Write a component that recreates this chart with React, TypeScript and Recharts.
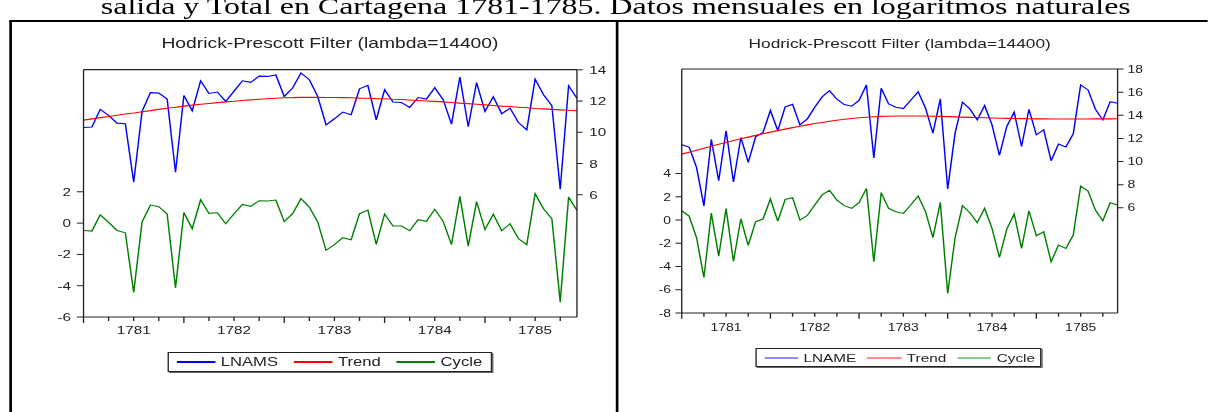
import React from 'react';
import { LineChart, Line, XAxis, YAxis, ReferenceLine } from 'recharts';

// the reference is a horizontally stretched page, so everything is drawn
// narrower and stretched back with scaleX
const S = 1.33;

// monthly, 1780M07 .. 1785M06
const lnams = [
  10.3, 10.33, 11.46, 11.07, 10.58, 10.54, 6.8, 11.33, 12.53, 12.5,
  12.12, 7.44, 12.35, 11.37, 13.29, 12.48, 12.57, 11.97, 12.63, 13.29,
  13.19, 13.59, 13.57, 13.66, 12.29, 12.83, 13.79, 13.36, 12.29, 10.47,
  10.86, 11.29, 11.12, 12.78, 13.0, 10.79, 12.72, 11.93, 11.9, 11.58,
  12.22, 12.12, 12.85, 12.08, 10.52, 13.53, 10.35, 13.17, 11.33, 12.27,
  11.18, 11.54, 10.62, 10.15, 13.4, 12.4, 11.69, 6.35, 12.97, 12.18,
];
const trendL = [
  10.77, 10.85, 10.93, 11.0, 11.08, 11.16, 11.23, 11.31, 11.38, 11.46,
  11.53, 11.6, 11.67, 11.73, 11.79, 11.84, 11.89, 11.94, 11.98, 12.03,
  12.07, 12.11, 12.14, 12.17, 12.2, 12.21, 12.23, 12.23, 12.23, 12.22,
  12.22, 12.21, 12.2, 12.18, 12.17, 12.15, 12.14, 12.11, 12.09, 12.06,
  12.03, 12.0, 11.97, 11.94, 11.9, 11.86, 11.83, 11.79, 11.75, 11.71,
  11.67, 11.64, 11.6, 11.56, 11.52, 11.49, 11.46, 11.43, 11.4, 11.37,
];
const cycleL = [
  -0.47, -0.51, 0.53, 0.05, -0.47, -0.62, -4.43, 0.07, 1.15, 1.05,
  0.58, -4.15, 0.68, -0.36, 1.49, 0.62, 0.66, -0.04, 0.6, 1.19,
  1.07, 1.43, 1.41, 1.47, 0.09, 0.6, 1.56, 1.02, 0.07, -1.74,
  -1.38, -0.93, -1.06, 0.6, 0.83, -1.36, 0.58, -0.19, -0.19, -0.49,
  0.22, 0.11, 0.88, 0.11, -1.38, 1.71, -1.47, 1.37, -0.41, 0.56,
  -0.49, -0.04, -1.0, -1.38, 1.88, 0.92, 0.28, -5.05, 1.66, 0.81,
];

const lname = [
  11.45, 11.25, 9.49, 6.16, 11.91, 8.34, 12.66, 8.23, 12.08, 9.92,
  12.14, 12.51, 14.41, 12.68, 14.72, 14.95, 13.17, 13.69, 14.7, 15.59,
  16.13, 15.39, 14.92, 14.78, 15.28, 16.62, 10.3, 16.34, 14.98, 14.7,
  14.58, 15.3, 16.04, 14.61, 12.45, 15.41, 7.63, 12.45, 15.13, 14.55,
  13.6, 14.84, 13.17, 10.53, 13.03, 14.27, 11.3, 14.52, 12.31, 12.74,
  10.07, 11.51, 11.25, 12.4, 16.62, 16.19, 14.52, 13.6, 15.18, 15.04,
];
const trendR = [
  10.64, 10.81, 10.98, 11.15, 11.32, 11.49, 11.65, 11.81, 11.96, 12.11,
  12.26, 12.4, 12.54, 12.67, 12.8, 12.93, 13.05, 13.17, 13.28, 13.38,
  13.48, 13.57, 13.65, 13.72, 13.78, 13.83, 13.87, 13.9, 13.92, 13.93,
  13.94, 13.94, 13.94, 13.93, 13.92, 13.9, 13.88, 13.86, 13.84, 13.82,
  13.8, 13.78, 13.76, 13.74, 13.73, 13.72, 13.71, 13.7, 13.69, 13.69,
  13.68, 13.68, 13.68, 13.68, 13.68, 13.68, 13.69, 13.69, 13.69, 13.7,
];
const cycleR = [
  0.8, 0.34, -1.52, -4.94, 0.6, -3.1, 0.98, -3.56, 0.11, -2.18,
  -0.14, 0.09, 1.81, -0.09, 1.78, 1.93, 0.0, 0.4, 1.29, 2.16,
  2.56, 1.72, 1.24, 1.01, 1.49, 2.73, -3.59, 2.36, 1.01, 0.72,
  0.57, 1.29, 2.07, 0.72, -1.52, 1.52, -6.32, -1.52, 1.24, 0.63,
  -0.23, 1.01, -0.72, -3.22, -0.78, 0.52, -2.44, 0.8, -1.35, -1.01,
  -3.59, -2.16, -2.44, -1.29, 2.93, 2.5, 0.86, -0.06, 1.49, 1.29,
];

const years = ['1781', '1782', '1783', '1784', '1785'];
const tickIdx = Array.from({ length: 20 }, (_, k) => k * 3);

const dataL = lnams.map((v, i) => ({ i, s: v, t: trendL[i], c: cycleL[i] }));
const dataR = lname.map((v, i) => ({ i, s: v, t: trendR[i], c: cycleR[i] }));

const INK = '#222';

const XTick = ({ x, y, payload, fs, base, major, minor }: any) => {
  const i = payload.value;
  const label = i % 12 === 6 ? years[(i - 6) / 12] : null;
  return (
    <g>
      <line x1={x} x2={x} y1={y} y2={y + (i % 12 === 0 ? major : minor)} stroke={INK} />
      {label && (
        <text x={x} y={y + base} textAnchor="middle" fontSize={fs} fill={INK}>
          {label}
        </text>
      )}
    </g>
  );
};

function Legend({ box, fs, lineLen, lineW, pad, gap, items }: any) {
  return (
    <div
      style={{
        position: 'absolute', left: box.left, top: box.top, width: box.width, height: box.height,
        boxSizing: 'border-box', border: `1px solid ${INK}`, boxShadow: '1px 1px 0 #666',
        display: 'flex', alignItems: 'center', paddingLeft: pad, fontSize: fs, background: '#fff',
      }}
    >
      {items.map((it: any, k: number) => (
        <div key={k} style={{ display: 'flex', alignItems: 'center', marginLeft: k ? gap : 0 }}>
          <div style={{ width: lineLen, height: lineW, background: it.color }} />
          <span style={{ marginLeft: 4, whiteSpace: 'nowrap' }}>{it.label}</span>
        </div>
      ))}
    </div>
  );
}

function Panel({ cfg, data }: any) {
  return (
    <>
      <div
        style={{
          position: 'absolute', left: cfg.titleX - 200, width: 400, top: cfg.titleTop,
          textAlign: 'center', fontSize: cfg.titleFs, lineHeight: 1, whiteSpace: 'nowrap',
        }}
      >
        Hodrick-Prescott Filter (lambda=14400)
      </div>
      <div style={{ position: 'absolute', left: cfg.left, top: 0 }}>
        <LineChart width={cfg.width} height={412} data={data} margin={cfg.margin}>
          <XAxis
            dataKey="i" type="number" domain={[0, 59]} ticks={tickIdx} interval={0}
            height={30} tickSize={0} tickMargin={0} tickLine={false} stroke={INK}
            tick={(p: any) => <XTick {...p} fs={cfg.tickFs} base={cfg.xBase} major={cfg.major} minor={cfg.minor} />}
          />
          <YAxis
            yAxisId="l" orientation="left" width={cfg.lw} domain={cfg.lDomain} ticks={cfg.lTicks}
            allowDataOverflow interval={0} tickSize={cfg.lTick} tickMargin={cfg.lMargin} stroke={INK}
            tick={{ fontSize: cfg.tickFs, fill: INK }}
          />
          <YAxis
            yAxisId="r" orientation="right" width={cfg.rw} domain={cfg.rDomain} ticks={cfg.rTicks}
            allowDataOverflow interval={0} tickSize={cfg.rTick} tickMargin={cfg.rMargin} stroke={INK}
            tick={{ fontSize: cfg.tickFs, fill: INK }}
          />
          {/* top edge of the plot frame */}
          <ReferenceLine yAxisId="r" y={cfg.rDomain[1]} stroke={INK} strokeWidth={1.2} ifOverflow="visible" />
          <Line yAxisId="r" dataKey="s" type="linear" stroke="#0000ff" strokeWidth={1.1} dot={false} isAnimationActive={false} />
          <Line yAxisId="r" dataKey="t" type="linear" stroke="#ff0000" strokeWidth={1.1} dot={false} isAnimationActive={false} />
          <Line yAxisId="l" dataKey="c" type="linear" stroke="#008000" strokeWidth={1.1} dot={false} isAnimationActive={false} />
        </LineChart>
      </div>
      <Legend {...cfg.legend} />
    </>
  );
}

const cfgL = {
  left: 0, width: 462, margin: { top: 69.7, right: 0, bottom: 65, left: 22.8 },
  lw: 40, rw: 28.2, lDomain: [-6, 9.8], lTicks: [-6, -4, -2, 0, 2],
  rDomain: [-1.83, 14], rTicks: [6, 8, 10, 12, 14],
  tickFs: 11.5, xBase: 17.2, major: 6, minor: 4,
  lTick: 5, lMargin: 4.4, rTick: 4.3, rMargin: 4.9,
  titleX: 248.1, titleTop: 36, titleFs: 14.5,
  legend: {
    box: { left: 126.3, top: 352, width: 243.6, height: 20 }, fs: 12.5, lineLen: 29, lineW: 1.5, pad: 5.7, gap: 12,
    items: [
      { label: 'LNAMS', color: '#0000ff' },
      { label: 'Trend', color: '#ff0000' },
      { label: 'Cycle', color: '#008000' },
    ],
  },
};

const cfgR = {
  left: 463, width: 445, margin: { top: 69, right: 27.7, bottom: 69, left: 9.6 },
  lw: 40, rw: 40, lDomain: [-8, 13], lTicks: [-8, -6, -4, -2, 0, 2, 4],
  rDomain: [-3.1, 18], rTicks: [6, 8, 10, 12, 14, 16, 18],
  tickFs: 10.5, xBase: 17.7, major: 5.7, minor: 3.7,
  lTick: 4.7, lMargin: 3.3, rTick: 4.4, rMargin: 3,
  titleX: 676.5, titleTop: 37.3, titleFs: 13,
  legend: {
    box: { left: 568.4, top: 348, width: 215.1, height: 19 }, fs: 11.5, lineLen: 25.5, lineW: 2, pad: 5.3, gap: 8.5,
    items: [
      { label: 'LNAME', color: '#8c8cff' },
      { label: 'Trend', color: '#ff8c8c' },
      { label: 'Cycle', color: '#8cc88c' },
    ],
  },
};

export default function App() {
  return (
    <div style={{ position: 'relative', width: 1208, height: 412, overflow: 'hidden', background: '#fff' }}>
      <style>{'body{margin:0;background:#fff;overflow:hidden}'}</style>
      <div
        style={{
          position: 'absolute', left: 0, top: 0, width: 1208 / S, height: 412,
          transform: `scaleX(${S})`, transformOrigin: '0 0',
          fontFamily: '"Liberation Sans", Arial, sans-serif', color: INK,
        }}
      >
        <div
          style={{
            position: 'absolute', left: 463 - 500, width: 1000, top: -6, textAlign: 'center',
            fontFamily: '"Liberation Serif", "Times New Roman", serif', fontSize: 24, lineHeight: '24px',
            color: '#000', whiteSpace: 'nowrap',
          }}
        >
          salida y Total en Cartagena 1781-1785. Datos mensuales en logaritmos naturales
        </div>
        <div style={{ position: 'absolute', left: 7, right: 0, top: 20, height: 1.5, background: '#000' }} />
        <div style={{ position: 'absolute', left: 7, width: 1.6, top: 20, bottom: 0, background: '#000' }} />
        <div style={{ position: 'absolute', left: 463, width: 1.6, top: 20, bottom: 0, background: '#000' }} />
        <Panel cfg={cfgL} data={dataL} />
        <Panel cfg={cfgR} data={dataR} />
      </div>
    </div>
  );
}
